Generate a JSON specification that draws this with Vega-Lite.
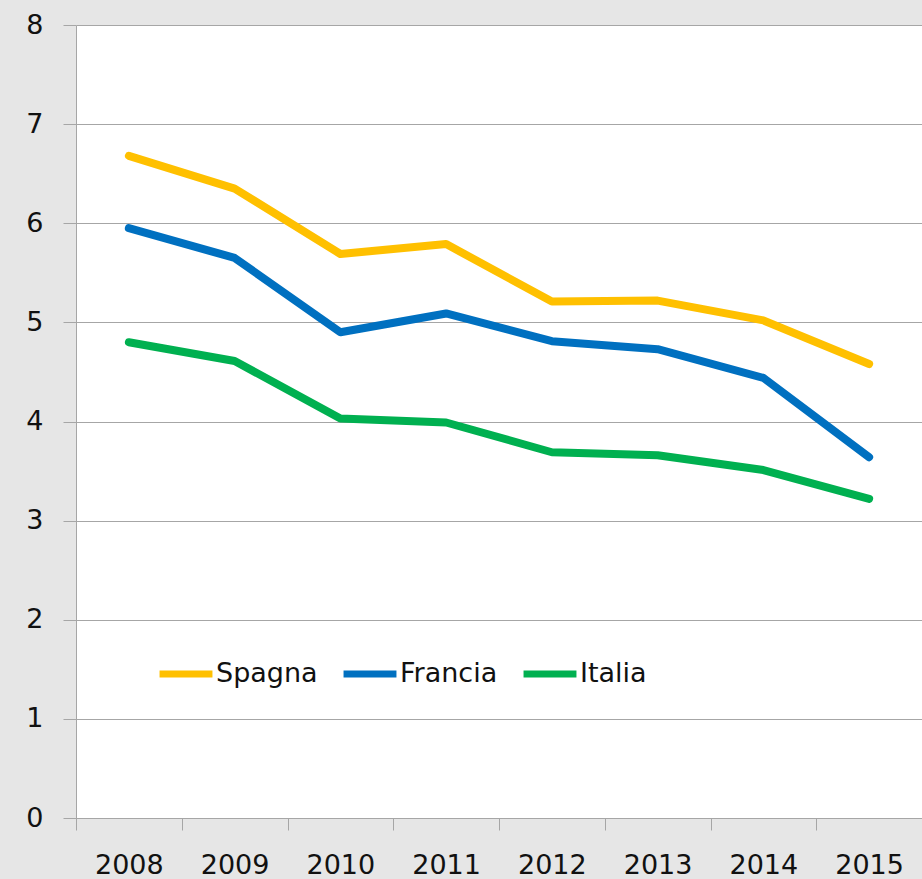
{
  "$schema": "https://vega.github.io/schema/vega-lite/v6.json",
  "autosize": "none",
  "width": 846,
  "height": 793,
  "padding": {"left": 76, "top": 25, "right": 0, "bottom": 61},
  "background": "#e6e6e6",
  "config": {
    "view": {"fill": "white", "stroke": null},
    "font": "DejaVu Sans"
  },
  "data": {
    "values": [
      {"anno": "2008", "paese": "Spagna", "valore": 6.68},
      {"anno": "2009", "paese": "Spagna", "valore": 6.35},
      {"anno": "2010", "paese": "Spagna", "valore": 5.69},
      {"anno": "2011", "paese": "Spagna", "valore": 5.79},
      {"anno": "2012", "paese": "Spagna", "valore": 5.21},
      {"anno": "2013", "paese": "Spagna", "valore": 5.22},
      {"anno": "2014", "paese": "Spagna", "valore": 5.02},
      {"anno": "2015", "paese": "Spagna", "valore": 4.58},
      {"anno": "2008", "paese": "Francia", "valore": 5.95},
      {"anno": "2009", "paese": "Francia", "valore": 5.65},
      {"anno": "2010", "paese": "Francia", "valore": 4.9},
      {"anno": "2011", "paese": "Francia", "valore": 5.09},
      {"anno": "2012", "paese": "Francia", "valore": 4.81},
      {"anno": "2013", "paese": "Francia", "valore": 4.73},
      {"anno": "2014", "paese": "Francia", "valore": 4.44},
      {"anno": "2015", "paese": "Francia", "valore": 3.64},
      {"anno": "2008", "paese": "Italia", "valore": 4.8},
      {"anno": "2009", "paese": "Italia", "valore": 4.61},
      {"anno": "2010", "paese": "Italia", "valore": 4.03},
      {"anno": "2011", "paese": "Italia", "valore": 3.99},
      {"anno": "2012", "paese": "Italia", "valore": 3.69},
      {"anno": "2013", "paese": "Italia", "valore": 3.66},
      {"anno": "2014", "paese": "Italia", "valore": 3.51},
      {"anno": "2015", "paese": "Italia", "valore": 3.22}
    ]
  },
  "mark": {"type": "line", "strokeWidth": 8, "strokeCap": "round", "strokeJoin": "round"},
  "encoding": {
    "x": {
      "field": "anno",
      "type": "ordinal",
      "scale": {"type": "band", "paddingInner": 0, "paddingOuter": 0},
      "axis": {
        "title": null,
        "labelAngle": 0,
        "tickBand": "extent",
        "labelFontSize": 27,
        "labelColor": "#111111",
        "labelPadding": 22,
        "tickSize": 12,
        "tickColor": "#a6a6a6",
        "domainColor": "#a6a6a6",
        "grid": false
      }
    },
    "y": {
      "field": "valore",
      "type": "quantitative",
      "scale": {"domain": [0, 8], "nice": false},
      "axis": {
        "title": null,
        "values": [0, 1, 2, 3, 4, 5, 6, 7, 8],
        "labelFontSize": 27,
        "labelColor": "#111111",
        "labelPadding": 20,
        "tickSize": 13,
        "tickColor": "#a6a6a6",
        "gridColor": "#a6a6a6",
        "domainColor": "#a6a6a6",
        "grid": true
      }
    },
    "color": {
      "field": "paese",
      "type": "nominal",
      "scale": {"domain": ["Spagna", "Francia", "Italia"], "range": ["#FFC000", "#0070C0", "#00B050"]},
      "legend": {
        "title": null,
        "orient": "none",
        "direction": "horizontal",
        "legendX": 80,
        "legendY": 619,
        "padding": 0,
        "symbolType": "stroke",
        "symbolSize": 2800,
        "symbolStrokeWidth": 7,
        "labelFontSize": 27,
        "labelColor": "#111111",
        "labelOffset": 0,
        "columnPadding": 11
      }
    }
  }
}
